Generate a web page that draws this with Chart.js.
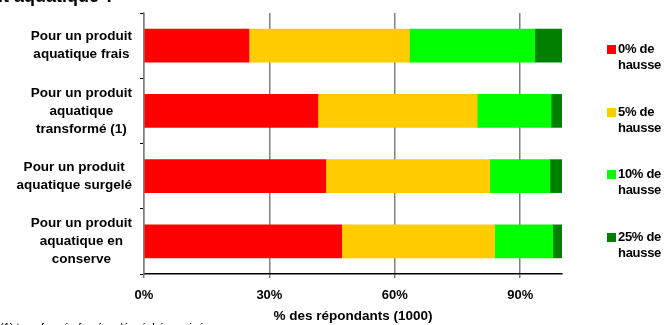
<!DOCTYPE html>
<html lang="fr">
<head>
<meta charset="utf-8">
<script src="https://cdn.jsdelivr.net/npm/chart.js@4.4.1/dist/chart.umd.min.js"></script>
<style>
  html, body { margin: 0; padding: 0; background: #fff; }
  #wrap { position: relative; width: 666px; height: 325px; overflow: hidden; font-family: "Liberation Sans", Arial, sans-serif; color: #000; }
  #chart1 { position: absolute; left: 0; top: 0; }
  .cut-title { position: absolute; right: 551px; top: -13px; font-weight: bold; font-size: 18px; line-height: 18px; white-space: nowrap; }
  .note { position: absolute; left: 0; top: 321px; font-size: 11px; line-height: 13px; white-space: nowrap; }
  .lg-item { position: absolute; left: 607px; width: 60px; font-weight: bold; font-size: 13px; line-height: 16px; }
  .lg-box { position: absolute; left: 0; top: 4px; width: 9px; height: 9px; }
  .lg-text { position: absolute; left: 11px; top: 0; width: 50px; letter-spacing: -0.3px; }
</style>
</head>
<body>
<div id="wrap">
  <canvas id="chart1" width="666" height="325"></canvas>
  <div class="cut-title">en cas de hausse du prix d'un produit aquatique ?</div>
  <div class="note">(1) transformé : fumé, salé, séché, mariné, en sauce...</div>
  <div id="legend"></div>
</div>
<script>
(function () {
  // ====== données ======
  const categories = [
    ['Pour un produit', 'aquatique frais'],
    ['Pour un produit', 'aquatique', 'transformé (1)'],
    ['Pour un produit', 'aquatique surgelé'],
    ['Pour un produit', 'aquatique en', 'conserve']
  ];
  const seriesNames = ['0% de hausse', '5% de hausse', '10% de hausse', '25% de hausse'];
  const hausse0  = [25.1, 41.6, 43.5, 47.3];
  const hausse5  = [38.4, 38.1, 39.2, 36.6];
  const hausse10 = [30.0, 17.7, 14.4, 13.9];
  const hausse25 = [6.5, 2.6, 2.9, 2.2];
  const xTicks = [0, 30, 60, 90];

  const colors = ['#FF0000', '#FFCC00', '#00FF00', '#008000'];
  const FONT = '"Liberation Sans", Arial, sans-serif';

  const $ = (s, r = document) => r.querySelector(s);

  // libellés de l'axe Y : bloc centré, aligné à droite (style Excel)
  const yLabels = {
    id: 'yLabels',
    afterDraw(chart) {
      const s = chart.scales.y, c = chart.ctx;
      c.save();
      c.font = 'bold 13.5px ' + FONT;
      c.fillStyle = '#000';
      c.textAlign = 'center';
      c.textBaseline = 'middle';
      categories.forEach((lines, i) => {
        const w = Math.max(...lines.map(l => c.measureText(l).width));
        const cx = s.right - 12 - w / 2;
        const cy = s.getPixelForValue(i);
        lines.forEach((l, k) => c.fillText(l, cx, cy + (k - (lines.length - 1) / 2) * 18));
      });
      c.restore();
    }
  };

  const ctx = $('#chart1');
  new Chart(ctx, {
    type: 'bar',
    data: {
      labels: categories,
      datasets: [hausse0, hausse5, hausse10, hausse25].map((d, i) => ({
        label: seriesNames[i],
        data: d,
        backgroundColor: colors[i],
        borderWidth: 0,
        barThickness: 33
      }))
    },
    options: {
      indexAxis: 'y',
      responsive: false,
      animation: false,
      devicePixelRatio: 1,
      layout: { padding: { top: 13, right: 104, left: 0, bottom: 0 } },
      plugins: { legend: { display: false }, tooltip: { enabled: false } },
      scales: {
        x: {
          stacked: true,
          min: 0,
          max: 100,
          afterBuildTicks: s => { s.ticks = xTicks.map(v => ({ value: v })); },
          ticks: {
            callback: v => v + '%',
            font: { family: FONT, size: 13, weight: 'bold' },
            color: '#000',
            padding: 10
          },
          grid: { color: '#808080', lineWidth: 1.5, tickLength: 4 },
          border: { color: '#000', width: 1.5 },
          title: {
            display: true,
            text: '% des répondants (1000)',
            font: { family: FONT, size: 13.5, weight: 'bold' },
            color: '#000',
            padding: { top: 4, bottom: 1 }
          },
          afterFit: s => { s.height = 51; }
        },
        y: {
          stacked: true,
          ticks: { display: false },
          grid: { display: true, drawOnChartArea: false, offset: true, tickLength: 4, color: '#000' },
          border: { color: '#808080', width: 1.5 },
          afterFit: s => { s.width = 144; }
        }
      }
    },
    plugins: [yLabels]
  });

  // ====== légende ======
  const legend = $('#legend');
  legend.innerHTML = seriesNames.map((n, i) => `
    <div class="lg-item" style="top:${41 + i * 62.7}px">
      <span class="lg-box" style="background:${colors[i]}"></span>
      <span class="lg-text">${n}</span>
    </div>`).join('');
})();
</script>
</body>
</html>
